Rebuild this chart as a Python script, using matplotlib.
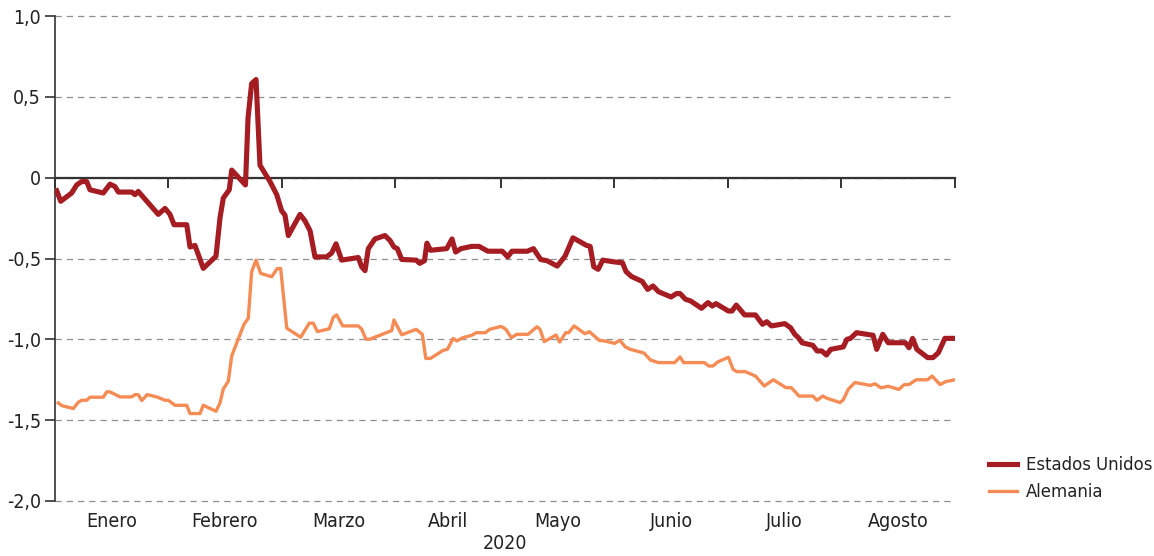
import matplotlib
matplotlib.use("Agg")
import matplotlib.pyplot as plt

plt.rcParams['font.family'] = ['DejaVu Sans']
plt.rcParams['font.stretch'] = 'condensed'

# ---- data (x in month units: 0 = start of Enero, 8 = end of Agosto) ----
months = ["Enero", "Febrero", "Marzo", "Abril", "Mayo", "Junio", "Julio", "Agosto"]
month_edges = [0, 1.004, 2.018, 3.022, 3.964, 4.969, 5.982, 6.987, 8.0]
year_label = "2020"
yticks = [1.0, 0.5, 0.0, -0.5, -1.0, -1.5, -2.0]
ytick_labels = ["1,0", "0,5", "0", "-0,5", "-1,0", "-1,5", "-2,0"]

us_x = [0.015, 0.051, 0.148, 0.193, 0.237, 0.282, 0.311, 0.429, 0.489, 0.533,
        0.563, 0.682, 0.711, 0.740, 0.918, 0.978, 1.022, 1.058, 1.171, 1.200,
        1.244, 1.318, 1.431, 1.467, 1.496, 1.549, 1.571, 1.693, 1.716, 1.748,
        1.787, 1.822, 1.911, 1.971, 2.015, 2.044, 2.074, 2.178, 2.222, 2.267,
        2.311, 2.415, 2.459, 2.498, 2.548, 2.696, 2.726, 2.756, 2.785, 2.844,
        2.933, 2.978, 3.013, 3.043, 3.082, 3.210, 3.242, 3.284, 3.306, 3.338,
        3.482, 3.529, 3.561, 3.609, 3.705, 3.769, 3.848, 3.976, 4.024, 4.062,
        4.199, 4.253, 4.317, 4.375, 4.464, 4.534, 4.604, 4.725, 4.757, 4.789,
        4.828, 4.869, 4.981, 5.044, 5.076, 5.124, 5.220, 5.268, 5.316, 5.364,
        5.476, 5.524, 5.556, 5.604, 5.651, 5.747, 5.804, 5.843, 5.875, 5.986,
        6.018, 6.056, 6.130, 6.226, 6.289, 6.327, 6.369, 6.487, 6.538, 6.576,
        6.608, 6.640, 6.736, 6.774, 6.816, 6.857, 6.895, 7.007, 7.039, 7.071,
        7.125, 7.272, 7.304, 7.358, 7.406, 7.559, 7.591, 7.623, 7.661, 7.757,
        7.804, 7.852, 7.910, 8.0]
us_y = [-0.081, -0.146, -0.095, -0.045, -0.024, -0.024, -0.075, -0.095, -0.040, -0.055,
        -0.089, -0.089, -0.105, -0.085, -0.227, -0.190, -0.227, -0.291, -0.291, -0.429,
        -0.419, -0.561, -0.486, -0.247, -0.126, -0.075, 0.047, -0.045, 0.370, 0.582,
        0.607, 0.077, -0.024, -0.105, -0.206, -0.231, -0.358, -0.227, -0.267, -0.328,
        -0.490, -0.490, -0.466, -0.409, -0.510, -0.494, -0.551, -0.575, -0.439, -0.379,
        -0.358, -0.389, -0.429, -0.439, -0.506, -0.510, -0.530, -0.514, -0.405, -0.449,
        -0.439, -0.379, -0.460, -0.439, -0.425, -0.425, -0.455, -0.455, -0.490, -0.455,
        -0.455, -0.439, -0.506, -0.514, -0.547, -0.486, -0.372, -0.419, -0.425, -0.551,
        -0.567, -0.510, -0.522, -0.526, -0.581, -0.611, -0.642, -0.691, -0.670, -0.705,
        -0.738, -0.717, -0.717, -0.752, -0.763, -0.808, -0.773, -0.794, -0.779, -0.825,
        -0.825, -0.788, -0.849, -0.849, -0.907, -0.891, -0.917, -0.903, -0.928, -0.969,
        -0.990, -1.021, -1.037, -1.072, -1.072, -1.097, -1.062, -1.047, -1.000, -0.994,
        -0.959, -0.975, -1.062, -0.969, -1.021, -1.021, -1.052, -0.994, -1.062, -1.113,
        -1.113, -1.083, -0.994, -0.994]

de_x = [0.029, 0.060, 0.163, 0.207, 0.237, 0.282, 0.311, 0.429, 0.460, 0.489,
        0.578, 0.682, 0.711, 0.740, 0.771, 0.820, 0.904, 0.978, 1.007, 1.067,
        1.171, 1.200, 1.289, 1.318, 1.431, 1.467, 1.496, 1.540, 1.571, 1.615,
        1.680, 1.718, 1.748, 1.787, 1.828, 1.926, 1.976, 2.006, 2.060, 2.184,
        2.260, 2.296, 2.332, 2.438, 2.474, 2.504, 2.557, 2.696, 2.726, 2.764,
        2.800, 2.948, 2.993, 3.013, 3.082, 3.210, 3.265, 3.296, 3.338, 3.450,
        3.488, 3.539, 3.571, 3.625, 3.705, 3.743, 3.826, 3.864, 3.966, 4.008,
        4.056, 4.104, 4.205, 4.285, 4.311, 4.349, 4.454, 4.486, 4.540, 4.566,
        4.614, 4.710, 4.751, 4.837, 4.885, 4.974, 5.020, 5.070, 5.115, 5.236,
        5.293, 5.364, 5.508, 5.556, 5.588, 5.772, 5.811, 5.849, 5.891, 5.986,
        6.028, 6.060, 6.136, 6.226, 6.305, 6.385, 6.497, 6.545, 6.614, 6.736,
        6.774, 6.825, 6.863, 6.978, 7.007, 7.052, 7.111, 7.246, 7.289, 7.342,
        7.406, 7.501, 7.549, 7.591, 7.655, 7.756, 7.796, 7.868, 7.916, 8.0]
de_y = [-1.393, -1.410, -1.428, -1.389, -1.377, -1.377, -1.358, -1.358, -1.325, -1.325,
        -1.356, -1.356, -1.342, -1.342, -1.379, -1.342, -1.356, -1.377, -1.377, -1.408,
        -1.408, -1.459, -1.459, -1.408, -1.445, -1.393, -1.307, -1.260, -1.102, -1.024,
        -0.907, -0.870, -0.582, -0.510, -0.592, -0.613, -0.562, -0.562, -0.931, -0.987,
        -0.900, -0.900, -0.952, -0.935, -0.863, -0.849, -0.917, -0.917, -0.937, -0.999,
        -0.999, -0.958, -0.946, -0.880, -0.972, -0.938, -0.969, -1.118, -1.118, -1.068,
        -1.062, -0.994, -1.010, -0.990, -0.975, -0.959, -0.959, -0.938, -0.920, -0.938,
        -0.990, -0.969, -0.969, -0.922, -0.938, -1.014, -0.973, -1.017, -0.959, -0.959,
        -0.917, -0.965, -0.953, -1.006, -1.010, -1.025, -1.006, -1.047, -1.062, -1.085,
        -1.128, -1.144, -1.144, -1.109, -1.144, -1.144, -1.165, -1.165, -1.140, -1.111,
        -1.186, -1.200, -1.200, -1.227, -1.289, -1.250, -1.299, -1.299, -1.351, -1.351,
        -1.377, -1.351, -1.365, -1.391, -1.374, -1.308, -1.267, -1.285, -1.275, -1.300,
        -1.290, -1.310, -1.280, -1.280, -1.250, -1.250, -1.227, -1.280, -1.262, -1.250]

series_names = ["Estados Unidos", "Alemania"]
colors = ["#A51D23", "#F68C55"]

# ---- figure ----
W, H = 1154, 556
fig = plt.figure(figsize=(W / 100, H / 100), dpi=100)
ax = fig.add_axes([55 / W, 55 / H, 900 / W, 485 / H])
ax.set_xlim(month_edges[0], month_edges[-1])
ax.set_ylim(-2.0, 1.0)

text_color = "#222222"
axis_color = "#333333"
fs = 14

ax.set_yticks(yticks)
ax.set_yticklabels(ytick_labels)
ax.yaxis.grid(True, color="#8f8f8f", linewidth=0.9, linestyle=(0, (5.0, 4.0)))
for gl in ax.get_ygridlines():
    gl.set_clip_on(False)
ax.set_axisbelow(True)
ax.tick_params(axis="y", direction="out", length=7, width=1.2, colors=axis_color,
               labelcolor=text_color, labelsize=fs, pad=3)

for s in ["top", "right"]:
    ax.spines[s].set_visible(False)
ax.spines["left"].set_color(axis_color)
ax.spines["left"].set_linewidth(1.2)
ax.spines["bottom"].set_position(("data", 0))
ax.spines["bottom"].set_color(axis_color)
ax.spines["bottom"].set_linewidth(1.6)
ax.spines["bottom"].set_zorder(1.5)

ax.set_xticks(month_edges)
ax.tick_params(axis="x", direction="out", length=7, width=1.4, colors=axis_color,
               labelbottom=False)

l1, = ax.plot(us_x, us_y, color=colors[0], linewidth=3.7, zorder=4)
l2, = ax.plot(de_x, de_y, color=colors[1], linewidth=2.4, zorder=3)

# month labels at the bottom
label_pos = [(month_edges[i] + month_edges[i + 1]) / 2 for i in range(len(months))]
sec = ax.secondary_xaxis("bottom")
sec.set_xticks(label_pos)
sec.set_xticklabels(months)
sec.tick_params(length=0, pad=8, labelsize=fs, labelcolor=text_color)
sec.spines["bottom"].set_visible(False)
sec.set_xlabel(year_label, fontsize=fs, color=text_color, labelpad=2)

fig.legend([l1, l2], series_names, loc="upper left",
           bbox_to_anchor=(989 / W, 1 - 456 / H), frameon=False,
           handlelength=1.5, handletextpad=0.5, labelspacing=0.5,
           borderpad=0, borderaxespad=0, fontsize=13.2, labelcolor=text_color)

fig.savefig("out.png", dpi=100)
